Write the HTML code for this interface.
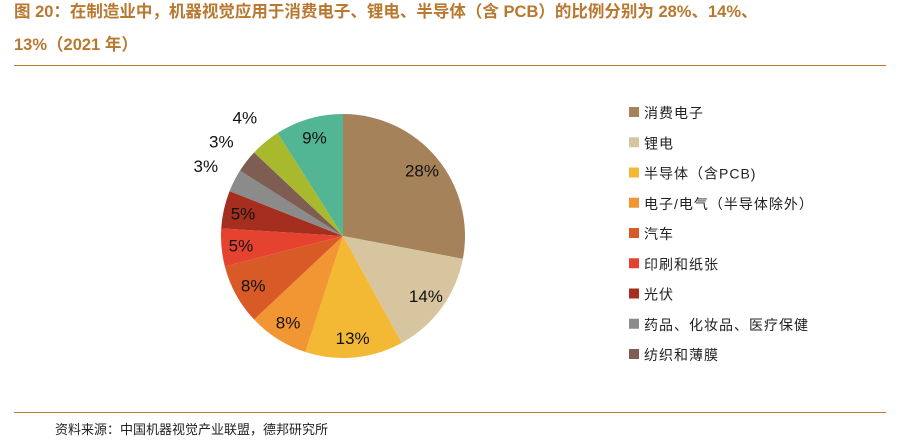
<!DOCTYPE html>
<html><head><meta charset="utf-8"><style>
body{margin:0;width:898px;height:448px;background:#fff;overflow:hidden;font-family:"Liberation Sans","Noto Sans CJK SC",sans-serif;position:relative}
.title{position:absolute;left:14px;top:-4px;width:880px;color:#B8782F;font-weight:bold;font-size:16.5px;line-height:33px}
.rule{position:absolute;left:14px;width:872px;height:1px;background:#B8782F}
.foot{position:absolute;left:55px;top:419px;font-size:13px;color:#222}
</style></head><body>
<div class="title">图 20：在制造业中，机器视觉应用于消费电子、锂电、半导体（含 PCB）的比例分别为 28%、14%、<br>13%（2021 年）</div>
<div class="rule" style="top:65px"></div>
<div class="rule" style="top:412px"></div>
<div class="foot">资料来源：中国机器视觉产业联盟，德邦研究所</div>
<svg id="pie" width="898" height="448" style="position:absolute;left:0;top:0"></svg>
<script>
const categories=["消费电子","锂电","半导体（含PCB)","电子/电气（半导体除外）","汽车","印刷和纸张","光伏","药品、化妆品、医疗保健","纺织和薄膜","其他1","其他2"];
const values=[28,14,13,8,8,5,5,3,3,4,9];
const labels=["28%","14%","13%","8%","8%","5%","5%","3%","3%","4%","9%"];
const colors=["#A6825B","#D6C59E","#F3B935","#F29533","#D85B27","#E5432F","#A62E1E","#8B8B8B","#7E5E53","#A9B92E","#52B594"];
const legendCount=9;
const svg=document.getElementById('pie');const NS="http://www.w3.org/2000/svg";
const cx=343,cy=236,r=122;
const total=values.reduce((a,b)=>a+b,0);
let a0=0;
values.forEach((v,i)=>{
  const a1=a0+v/total*2*Math.PI;
  const p=document.createElementNS(NS,'path');
  const x0=cx+r*Math.sin(a0),y0=cy-r*Math.cos(a0),x1=cx+r*Math.sin(a1),y1=cy-r*Math.cos(a1);
  p.setAttribute('d',`M${cx},${cy}L${x0},${y0}A${r},${r} 0 ${a1-a0>Math.PI?1:0} 1 ${x1},${y1}Z`);
  p.setAttribute('fill',colors[i]);
  
  
  svg.appendChild(p);
  const am=(a0+a1)/2;const out=v<=4;const lr=out?r+32:r*0.84;
  const t=document.createElementNS(NS,'text');
  t.setAttribute('x',cx+lr*Math.sin(am));t.setAttribute('y',cy-lr*Math.cos(am)+6);
  t.setAttribute('text-anchor','middle');t.setAttribute('font-size','17');t.setAttribute('fill','#111');
  t.setAttribute('font-family','Liberation Sans, sans-serif');
  t.textContent=labels[i];
  
  
  svg.appendChild(t);
  a0=a1;
});
for(let i=0;i<legendCount;i++){
  const y=113+i*30.25;
  const s=document.createElementNS(NS,'rect');
  s.setAttribute('x',629);s.setAttribute('y',y-6);s.setAttribute('width',10);s.setAttribute('height',10);s.setAttribute('fill',colors[i]);
  
  
  svg.appendChild(s);
  const t=document.createElementNS(NS,'text');
  t.setAttribute('x',644);t.setAttribute('y',y+5);t.setAttribute('font-size','14');t.setAttribute('fill','#222');
  t.setAttribute('font-family','Liberation Sans, Noto Sans CJK SC, sans-serif');
  t.setAttribute('letter-spacing','1');
  t.textContent=categories[i];
  
  
  svg.appendChild(t);
}
</script>
</body></html>
